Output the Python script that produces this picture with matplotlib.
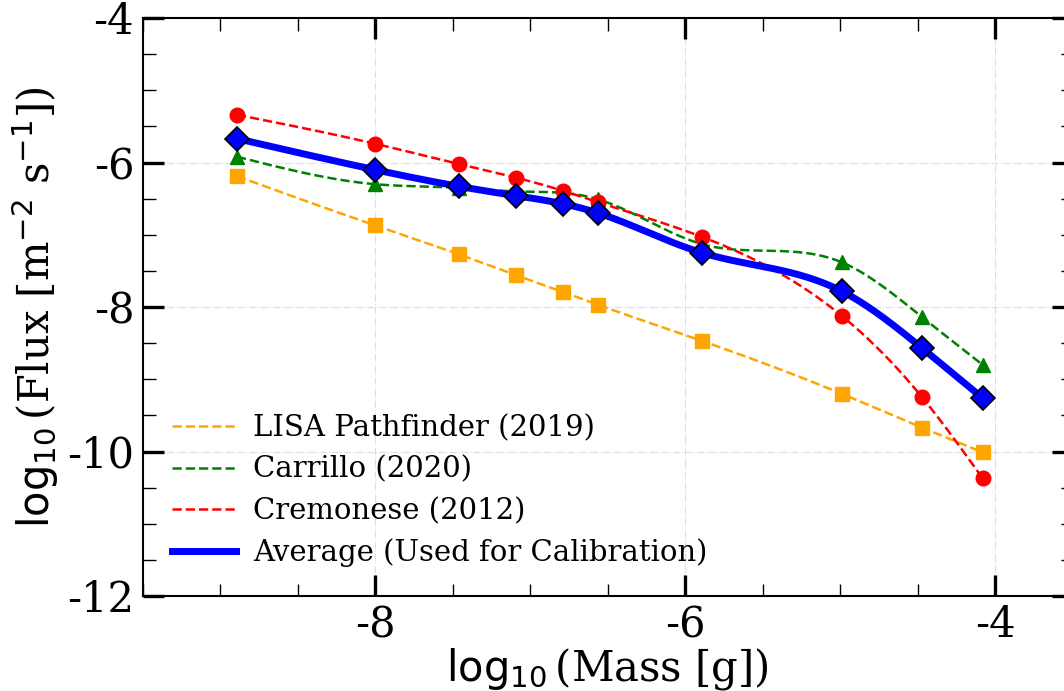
import numpy as np
import matplotlib
matplotlib.use("Agg")
import matplotlib.pyplot as plt
from matplotlib.ticker import MultipleLocator

# log10 of grain mass [g]
log_mass = [-8.89, -8.0, -7.46, -7.09, -6.79, -6.56, -5.89, -4.99, -4.47, -4.08]

# log10 of flux [m^-2 s^-1] for each model
flux_lisa = [-6.19, -6.87, -7.27, -7.56, -7.79, -7.97, -8.47, -9.20, -9.67, -10.01]
flux_carrillo = [-5.92, -6.30, -6.35, -6.40, -6.42, -6.51, -7.13, -7.38, -8.14, -8.80]
flux_cremonese = [-5.34, -5.74, -6.02, -6.21, -6.39, -6.55, -7.03, -8.12, -9.25, -10.37]
flux_average = [-5.67, -6.10, -6.33, -6.46, -6.57, -6.70, -7.25, -7.78, -8.57, -9.26]


def spline(x, y, n=300):
    # natural cubic spline, used only to draw a smooth curve through the points
    x = np.asarray(x, float)
    y = np.asarray(y, float)
    h = np.diff(x)
    k = len(x)
    A = np.zeros((k, k))
    r = np.zeros(k)
    A[0, 0] = A[-1, -1] = 1.0
    for i in range(1, k - 1):
        A[i, i - 1] = h[i - 1]
        A[i, i] = 2 * (h[i - 1] + h[i])
        A[i, i + 1] = h[i]
        r[i] = 6 * ((y[i + 1] - y[i]) / h[i] - (y[i] - y[i - 1]) / h[i - 1])
    M = np.linalg.solve(A, r)
    xs = np.linspace(x[0], x[-1], n)
    j = np.clip(np.searchsorted(x, xs) - 1, 0, k - 2)
    t0 = xs - x[j]
    t1 = x[j + 1] - xs
    hj = h[j]
    ys = (M[j] * t1**3 + M[j + 1] * t0**3) / (6 * hj) \
        + (y[j] / hj - M[j] * hj / 6) * t1 + (y[j + 1] / hj - M[j + 1] * hj / 6) * t0
    return xs, ys


plt.rcParams['font.family'] = 'DejaVu Serif'
plt.rcParams['mathtext.fontset'] = 'dejavusans'

fig = plt.figure(figsize=(10.64, 6.91), dpi=100)
ax = fig.add_axes([142.5 / 1064, 95 / 691, 930 / 1064, 578 / 691])

series = [
    (flux_lisa, 'orange', 's', 'LISA Pathfinder (2019)', 10.5),
    (flux_carrillo, 'green', '^', 'Carrillo (2020)', 10),
    (flux_cremonese, 'red', 'o', 'Cremonese (2012)', 10.5),
]
for vals, col, mk, lab, ms in series:
    xs, ys = spline(log_mass, vals)
    ax.plot(xs, ys, '--', color=col, lw=1.8, label=lab)
    ax.plot(log_mass, vals, mk, color=col, ms=ms, linestyle='none')

xs, ys = spline(log_mass, flux_average)
ax.plot(xs, ys, '-', color='blue', lw=5, label='Average (Used for Calibration)')
ax.plot(log_mass, flux_average, 'D', color='blue', mec='black', mew=1.2, ms=12,
        linestyle='none')

ax.set_xlim(-9.5, -3.5)
ax.set_ylim(-12, -4)
ax.xaxis.set_minor_locator(MultipleLocator(0.5))
ax.yaxis.set_minor_locator(MultipleLocator(0.5))
ax.set_xticks([-8, -6, -4])
ax.set_xticklabels(['-8', '-6', '-4'])
ax.set_yticks([-4, -6, -8, -10, -12])
ax.set_yticklabels(['-4', '-6', '-8', '-10', '-12'])

ax.tick_params(which='both', direction='in', top=True, right=True, labelsize=30)
ax.tick_params(which='major', length=15, width=2.4, pad=6)
ax.tick_params(which='minor', length=9, width=1)
for s in ax.spines.values():
    s.set_linewidth(1.5)

ax.grid(True, which='major', color='#dddddd', linestyle='-.', linewidth=0.8)

ax.set_xlabel(r'$\log_{10}$(Mass [g])', fontsize=30, labelpad=0)
ax.set_ylabel(r'$\log_{10}$(Flux [m$^{-2}$ s$^{-1}$])', fontsize=30, labelpad=4)

ax.legend(loc='lower left', frameon=False, fontsize=21, handlelength=2.2,
          handletextpad=0.6, borderaxespad=0.6, labelspacing=0.45)

fig.savefig('out.png', dpi=100)
